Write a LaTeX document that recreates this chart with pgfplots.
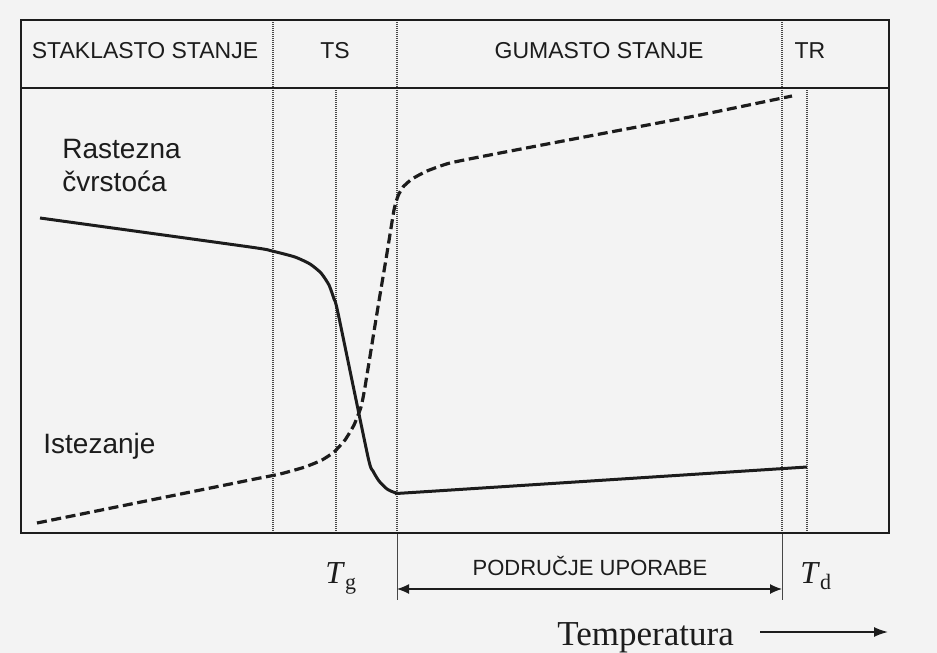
\documentclass[border=0pt]{standalone}
\usepackage{pgfplots}
\pgfplotsset{compat=1.18}
\usepackage{fontspec}
\setmainfont{Liberation Sans}
\newfontfamily\serif{Liberation Serif}
\usetikzlibrary{arrows.meta}
\definecolor{bg}{RGB}{243,243,243}
\definecolor{ink}{RGB}{28,28,28}
\definecolor{guide}{RGB}{70,70,70}
\begin{document}
\begin{tikzpicture}
\fill[bg] (0,0) rectangle (468.5pt,326.5pt);
\begin{axis}[
  x=0.5pt, y=0.5pt, y dir=reverse,
  xmin=0, xmax=937, ymin=0, ymax=653,
  hide axis, clip=false, scale only axis,
  anchor=south west, at={(0,0)},
]
% guide lines
\draw[guide, line width=0.55pt, dash pattern=on 0.5pt off 0.5pt] (axis cs:273,20) -- (axis cs:273,533);
\draw[guide, line width=0.55pt, dash pattern=on 0.5pt off 0.5pt] (axis cs:336,88) -- (axis cs:336,533);
\draw[guide, line width=0.55pt, dash pattern=on 0.5pt off 0.5pt] (axis cs:397,20) -- (axis cs:397,533);
\draw[guide, line width=0.55pt, dash pattern=on 0.5pt off 0.5pt] (axis cs:782,20) -- (axis cs:782,533);
\draw[guide, line width=0.55pt, dash pattern=on 0.5pt off 0.5pt] (axis cs:807,88) -- (axis cs:807,533);
\draw[guide, line width=0.5pt] (axis cs:397,533) -- (axis cs:397,600);
\draw[guide, line width=0.5pt] (axis cs:782,533) -- (axis cs:782,600);
% frame
\draw[ink, line width=1.3pt] (axis cs:21,20) rectangle (axis cs:889,533);
\draw[ink, line width=1pt] (axis cs:21,88) -- (axis cs:889,88);
% Rastezna cvrstoca (solid)
\addplot[ink, line width=1.5pt, smooth, tension=0.35] coordinates {
 (40,218) (250,247) (272,251) (295,257) (310,264) (321,273) (329,285) (334,299) (338,313)
 (368,457) (373,471) (379,481) (387,489) (397,493) (420,492) (807,467)};
% Istezanje (dashed)
\addplot[ink, line width=1.6pt, smooth, tension=0.3, dash pattern=on 5pt off 2.3pt] coordinates {
 (37,523) (250,480) (280,474) (305,467) (322,460) (334,452) (345,440) (354,425) (361,407) (365,387)
 (377,313) (387,253) (394,210) (398,196) (403,187) (412,179) (427,171) (450,163) (500,153)
 (600,134) (700,115) (792,96)};
% header labels
\node[ink, anchor=base, inner sep=0, font=\fontsize{11.5}{13}\selectfont] at (axis cs:145,58) {STAKLASTO STANJE};
\node[ink, anchor=base, inner sep=0, font=\fontsize{11.5}{13}\selectfont] at (axis cs:335,58) {TS};
\node[ink, anchor=base, inner sep=0, font=\fontsize{11.5}{13}\selectfont] at (axis cs:599,58) {GUMASTO STANJE};
\node[ink, anchor=base, inner sep=0, font=\fontsize{11.5}{13}\selectfont] at (axis cs:810,58) {TR};
% curve labels
\node[ink, anchor=base west, inner sep=0, font=\fontsize{14}{16}\selectfont] at (axis cs:62,158) {Rastezna};
\node[ink, anchor=base west, inner sep=0, font=\fontsize{14}{16}\selectfont] at (axis cs:62,191) {čvrstoća};
\node[ink, anchor=base west, inner sep=0, font=\fontsize{14}{16}\selectfont] at (axis cs:43,453) {Istezanje};
% bottom
\node[ink, anchor=base, inner sep=0, font=\fontsize{11}{13}\selectfont] at (axis cs:590,575) {PODRUČJE UPORABE};
\draw[ink, line width=0.6pt, {Latex[length=6pt,width=5pt]}-{Latex[length=6pt,width=5pt]}] (axis cs:397,589) -- (axis cs:782,589);
\node[ink, anchor=base west, inner sep=0] at (axis cs:325,583) {\serif\fontsize{16}{18}\selectfont\itshape T\/\upshape\raisebox{-3pt}{\fontsize{11}{12}\selectfont g}};
\node[ink, anchor=base west, inner sep=0] at (axis cs:800,583) {\serif\fontsize{16}{18}\selectfont\itshape T\/\upshape\raisebox{-3pt}{\fontsize{11}{12}\selectfont d}};
\node[ink, anchor=base west, inner sep=0] at (axis cs:557,645) {\serif\fontsize{17.5}{20}\selectfont Temperatura};
\draw[ink, line width=0.8pt, -{Latex[length=7pt,width=5pt]}] (axis cs:760,632) -- (axis cs:888,632);
\end{axis}
\end{tikzpicture}
\end{document}
